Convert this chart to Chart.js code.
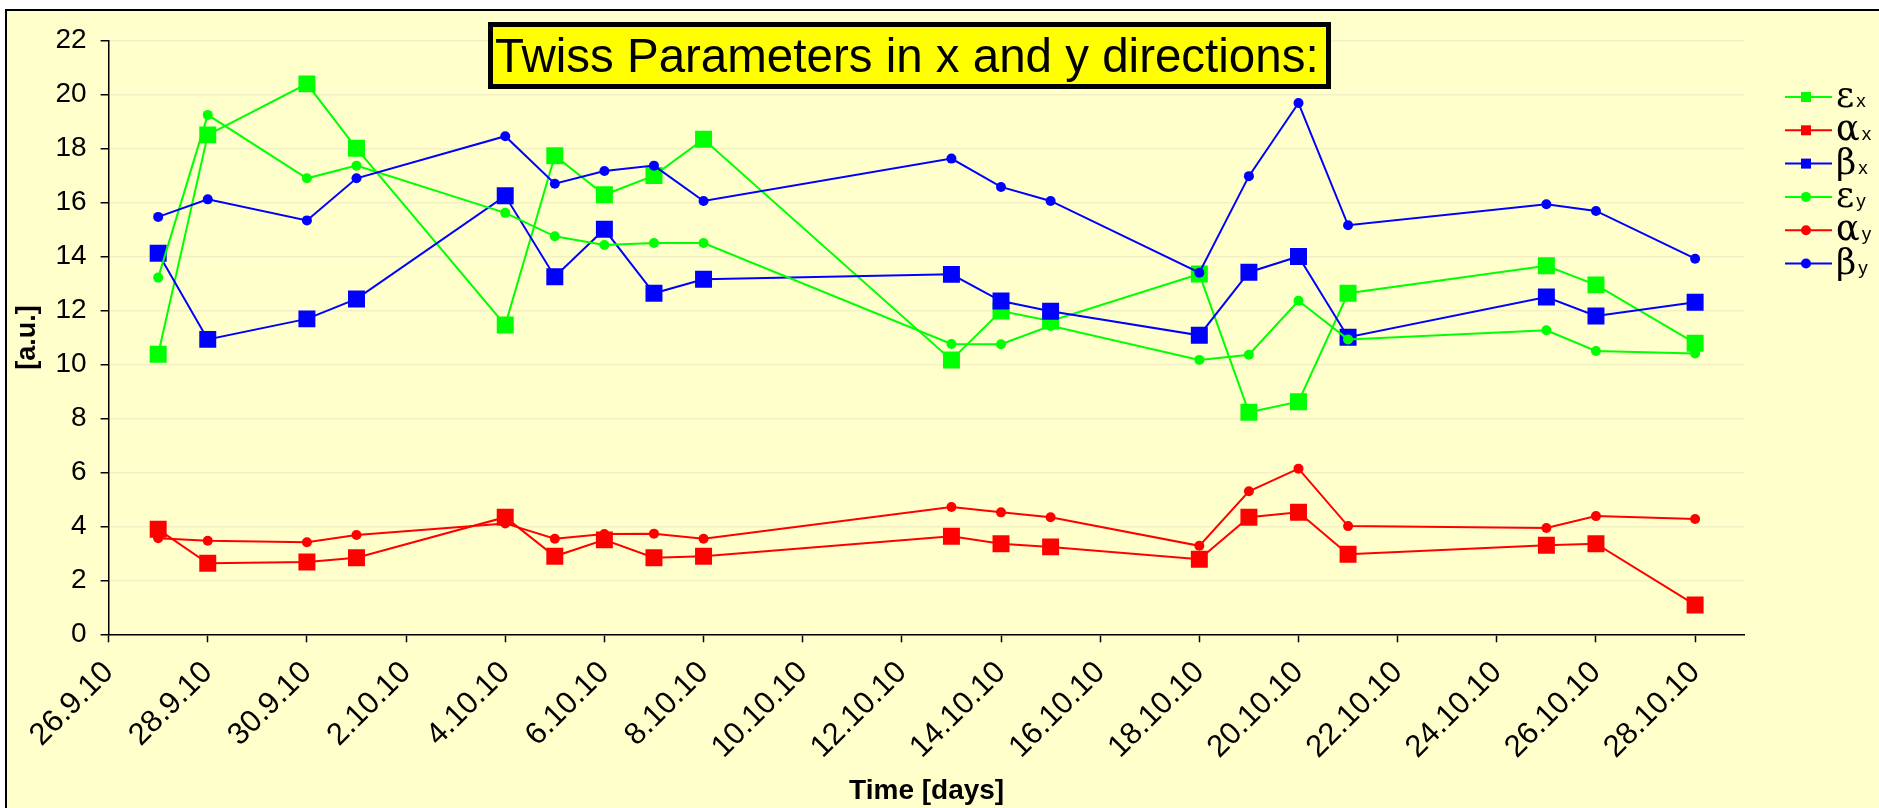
<!DOCTYPE html>
<html>
<head>
<meta charset="utf-8">
<script src="https://cdn.jsdelivr.net/npm/chart.js@4.4.0/dist/chart.umd.min.js"></script>
<style>
  html, body { margin: 0; padding: 0; background: #ffffff; }
  #wrap { position: relative; width: 1879px; height: 808px; }
  canvas { display: block; }
</style>
</head>
<body>
<div id="wrap"><canvas id="c" width="1879" height="808"></canvas></div>
<script>
// ---------------- data ----------------
const chartTitle = 'Twiss Parameters in x and y directions:';
const xAxisTitle = 'Time [days]';
const yAxisTitle = '[a.u.]';
const startDate = '26.9.10';
const tickLabels = ['26.9.10', '28.9.10', '30.9.10', '2.10.10', '4.10.10', '6.10.10', '8.10.10',
  '10.10.10', '12.10.10', '14.10.10', '16.10.10', '18.10.10', '20.10.10', '22.10.10',
  '24.10.10', '26.10.10', '28.10.10'];
const measureDates = ['27.9.10', '28.9.10', '30.9.10', '1.10.10', '4.10.10', '5.10.10', '6.10.10',
  '7.10.10', '8.10.10', '13.10.10', '14.10.10', '15.10.10', '18.10.10', '19.10.10', '20.10.10',
  '21.10.10', '25.10.10', '26.10.10', '28.10.10'];
const epsX   = [10.38, 18.51, 20.40, 18.01, 11.46, 17.74, 16.29, 17.00, 18.35, 10.17, 11.98, 11.61, 13.35, 8.23, 8.62, 12.64, 13.66, 12.95, 10.79];
const alphaX = [3.89, 2.63, 2.68, 2.84, 4.34, 2.89, 3.50, 2.84, 2.89, 3.63, 3.36, 3.24, 2.78, 4.34, 4.52, 2.97, 3.30, 3.36, 1.09];
const betaX  = [14.12, 10.93, 11.69, 12.43, 16.25, 13.25, 15.01, 12.64, 13.16, 13.34, 12.35, 11.97, 11.08, 13.42, 14.00, 11.01, 12.50, 11.80, 12.31];
const epsY   = [13.22, 19.25, 16.90, 17.37, 15.62, 14.75, 14.43, 14.50, 14.50, 10.76, 10.75, 11.43, 10.17, 10.36, 12.36, 10.93, 11.27, 10.50, 10.41];
const alphaY = [3.56, 3.47, 3.41, 3.68, 4.11, 3.54, 3.72, 3.73, 3.54, 4.72, 4.52, 4.34, 3.28, 5.30, 6.14, 4.01, 3.94, 4.38, 4.27];
const betaY  = [15.47, 16.12, 15.34, 16.90, 18.46, 16.70, 17.17, 17.37, 16.06, 17.63, 16.58, 16.06, 13.40, 16.98, 19.69, 15.16, 15.94, 15.69, 13.92];
const seriesSymbols = ['ε', 'α', 'β', 'ε', 'α', 'β'];
const seriesSubscripts = ['x', 'x', 'x', 'y', 'y', 'y'];

// ---------------- helpers ----------------
function parseDay(s) {
  const p = s.split('.').map(Number);
  return Date.UTC(2000 + p[2], p[1] - 1, p[0]);
}
const day0 = parseDay(startDate);
function dayIndex(s) { return Math.round((parseDay(s) - day0) / 86400000); }

const SANS = "'Liberation Sans', Arial, sans-serif";
const GREEN = '#00FF00', RED = '#FF0000', BLUE = '#0000FF';
const BG = '#FFFFCC';

function makeSet(i, values, color, style) {
  const r = style === 'rect' ? 12 : 5;
  return {
    label: seriesSymbols[i] + seriesSubscripts[i],
    data: values.map((v, k) => ({ x: dayIndex(measureDates[k]), y: v })),
    borderColor: color,
    backgroundColor: color,
    borderWidth: 2,
    pointStyle: style,
    pointRadius: r,
    pointHoverRadius: r,
    pointBorderWidth: 0,
    pointBackgroundColor: color,
    tension: 0,
    fill: false,
    order: 5 - i
  };
}

const datasets = [
  makeSet(0, epsX, GREEN, 'rect'),
  makeSet(1, alphaX, RED, 'rect'),
  makeSet(2, betaX, BLUE, 'rect'),
  makeSet(3, epsY, GREEN, 'circle'),
  makeSet(4, alphaY, RED, 'circle'),
  makeSet(5, betaY, BLUE, 'circle')
];

// background frame
const framePlugin = {
  id: 'frame',
  beforeDraw(chart) {
    const ctx = chart.ctx;
    ctx.save();
    ctx.fillStyle = '#ffffff';
    ctx.fillRect(0, 0, chart.width, chart.height);
    ctx.fillStyle = '#000000';
    ctx.fillRect(5, 9, chart.width, chart.height);
    ctx.fillStyle = BG;
    ctx.fillRect(7, 11, chart.width, chart.height);
    ctx.restore();
  }
};

// floating boxed title
const boxTitlePlugin = {
  id: 'boxTitle',
  afterDraw(chart) {
    const ctx = chart.ctx;
    ctx.save();
    ctx.fillStyle = '#FFFF00';
    ctx.fillRect(488, 22, 843, 67);
    ctx.lineWidth = 5;
    ctx.strokeStyle = '#000000';
    ctx.strokeRect(490.5, 24.5, 838, 62);
    ctx.fillStyle = '#000000';
    ctx.font = "47.5px " + SANS;
    ctx.textAlign = 'left';
    ctx.textBaseline = 'alphabetic';
    ctx.fillText(chartTitle, 495, 72);
    ctx.restore();
  }
};

// legend with large greek symbol + small subscript
const greekLegendPlugin = {
  id: 'greekLegend',
  afterDraw(chart) {
    const ctx = chart.ctx;
    ctx.save();
    chart.data.datasets.forEach((ds, i) => {
      const yc = 97 + i * 33.3;
      ctx.strokeStyle = ds.borderColor;
      ctx.lineWidth = 2;
      ctx.beginPath();
      ctx.moveTo(1785, yc);
      ctx.lineTo(1832, yc);
      ctx.stroke();
      ctx.fillStyle = ds.borderColor;
      if (ds.pointStyle === 'rect') {
        ctx.fillRect(1801, yc - 5, 10, 10);
      } else {
        ctx.beginPath();
        ctx.arc(1806, yc, 5, 0, Math.PI * 2);
        ctx.fill();
      }
      ctx.fillStyle = '#000000';
      ctx.textAlign = 'left';
      ctx.textBaseline = 'alphabetic';
      ctx.font = "35px 'DejaVu Serif', 'Liberation Serif', serif";
      const sym = seriesSymbols[i];
      ctx.fillText(sym, 1836, yc + 10);
      const w = ctx.measureText(sym).width;
      ctx.font = "19px " + SANS;
      ctx.fillText(seriesSubscripts[i], 1836 + w + 2, yc + 10);
    });
    ctx.restore();
  }
};

new Chart(document.getElementById('c'), {
  type: 'line',
  data: { datasets },
  options: {
    responsive: false,
    animation: false,
    devicePixelRatio: 1,
    parsing: true,
    layout: { padding: { top: 40.7, left: 0, right: 134.3, bottom: 0 } },
    plugins: {
      legend: { display: false },
      title: { display: false },
      tooltip: { enabled: false }
    },
    scales: {
      x: {
        type: 'linear',
        min: 0,
        max: 33,
        afterBuildTicks(s) {
          s.ticks = tickLabels.map((_, i) => ({ value: i * 2 }));
        },
        afterFit(s) { s.height = 808 - 634.3; },
        ticks: {
          stepSize: 2,
          autoSkip: false,
          minRotation: 45,
          maxRotation: 45,
          padding: 12,
          color: '#000000',
          font: { family: SANS, size: 31 },
          callback: (v) => tickLabels[Math.round(v / 2)]
        },
        grid: { drawOnChartArea: false, drawTicks: true, tickLength: 8, tickColor: '#000000', tickWidth: 1.5 },
        border: { display: true, color: '#000000', width: 1.5 },
        title: {
          display: true, text: xAxisTitle, color: '#000000',
          font: { family: SANS, size: 28, weight: 'bold' },
          padding: { top: 0, bottom: 0 }
        }
      },
      y: {
        type: 'linear',
        min: 0,
        max: 22,
        afterFit(s) { s.width = 108.6; },
        ticks: {
          stepSize: 2,
          padding: 14,
          color: '#000000',
          font: { family: SANS, size: 28 }
        },
        grid: { color: '#F3F0C6', lineWidth: 1.5, drawTicks: true, tickLength: 8, tickColor: '#000000', tickWidth: 1.5 },
        border: { display: true, color: '#000000', width: 1.5 },
        title: {
          display: true, text: yAxisTitle, color: '#000000',
          font: { family: SANS, size: 27, weight: 'bold' },
          padding: { top: 11.6, bottom: 0 }
        }
      }
    }
  },
  plugins: [framePlugin, boxTitlePlugin, greekLegendPlugin]
});
</script>
</body>
</html>
